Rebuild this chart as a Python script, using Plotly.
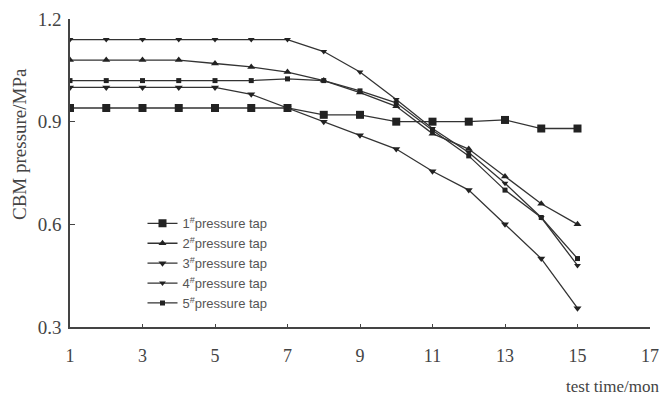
import plotly.graph_objects as go

months = list(range(1, 16))
tap1 = [0.94, 0.94, 0.94, 0.94, 0.94, 0.94, 0.94, 0.92, 0.92, 0.90, 0.90, 0.90, 0.905, 0.88, 0.88]
tap2 = [1.08, 1.08, 1.08, 1.08, 1.07, 1.06, 1.045, 1.02, 0.985, 0.945, 0.865, 0.82, 0.74, 0.66, 0.60]
tap3 = [1.00, 1.00, 1.00, 1.00, 1.00, 0.98, 0.94, 0.90, 0.86, 0.82, 0.755, 0.70, 0.60, 0.50, 0.355]
tap4 = [1.14, 1.14, 1.14, 1.14, 1.14, 1.14, 1.14, 1.105, 1.045, 0.965, 0.88, 0.81, 0.72, 0.62, 0.48]
tap5 = [1.02, 1.02, 1.02, 1.02, 1.02, 1.02, 1.025, 1.02, 0.99, 0.955, 0.875, 0.80, 0.70, 0.62, 0.50]
names = ["1<sup>#</sup>pressure tap", "2<sup>#</sup>pressure tap", "3<sup>#</sup>pressure tap",
         "4<sup>#</sup>pressure tap", "5<sup>#</sup>pressure tap"]
x_ticks = [1, 3, 5, 7, 9, 11, 13, 15, 17]
y_ticks = [0.3, 0.6, 0.9, 1.2]

series = [tap1, tap2, tap3, tap4, tap5]
symbols = ["square", "triangle-up", "triangle-down", "triangle-down", "square"]
sizes = [8, 7, 7, 6, 5]

fig = go.Figure()
for vals, name, sym, sz in zip(series, names, symbols, sizes):
    fig.add_trace(go.Scatter(
        x=months, y=vals, name=name, mode="lines+markers",
        line=dict(color="#333333", width=1.3),
        marker=dict(symbol=sym, size=sz, color="#222222"),
    ))

serif = "Liberation Serif, Times New Roman, serif"
fig.update_layout(
    width=668, height=399,
    margin=dict(l=70, r=18, t=19, b=72),
    plot_bgcolor="white", paper_bgcolor="white",
    showlegend=True,
    legend=dict(
        x=0.125, y=0.385, xanchor="left", yanchor="top",
        font=dict(family="Liberation Sans Narrow, Liberation Sans, Arial, sans-serif", size=13, color="#555555"),
        bgcolor="rgba(0,0,0,0)", itemwidth=30, tracegroupgap=0,
    ),
    xaxis=dict(
        range=[1, 17], tickvals=x_ticks, ticktext=[str(v) for v in x_ticks],
        showgrid=False, zeroline=False, showline=True, linecolor="#444444", linewidth=1.5,
        ticks="inside", ticklen=3, tickcolor="#444444", automargin=False,
        ticklabelstandoff=12,
        tickfont=dict(family=serif, size=18, color="#444444"),
    ),
    yaxis=dict(
        range=[0.3, 1.2], tickvals=y_ticks, ticktext=["0.3", "0.6", "0.9", "1.2"],
        showgrid=False, zeroline=False, showline=True, linecolor="#444444", linewidth=1.5,
        ticks="inside", ticklen=5, tickcolor="#444444", automargin=False,
        ticklabelstandoff=3,
        tickfont=dict(family=serif, size=19, color="#444444"),
    ),
    annotations=[
        dict(
            text="test time/mon", xref="paper", yref="paper", x=1.02, y=-0.155,
            xanchor="right", yanchor="top", showarrow=False,
            font=dict(family=serif, size=17, color="#444444"),
        ),
        dict(
            text="CBM pressure/MPa", xref="paper", yref="paper", x=-0.088, y=0.594,
            xanchor="center", yanchor="middle", textangle=-90, showarrow=False,
            font=dict(family=serif, size=19, color="#444444"),
        ),
    ],
)

fig.write_html("out.html", post_script="document.body.style.margin='0';",
               config={"displayModeBar": False})
